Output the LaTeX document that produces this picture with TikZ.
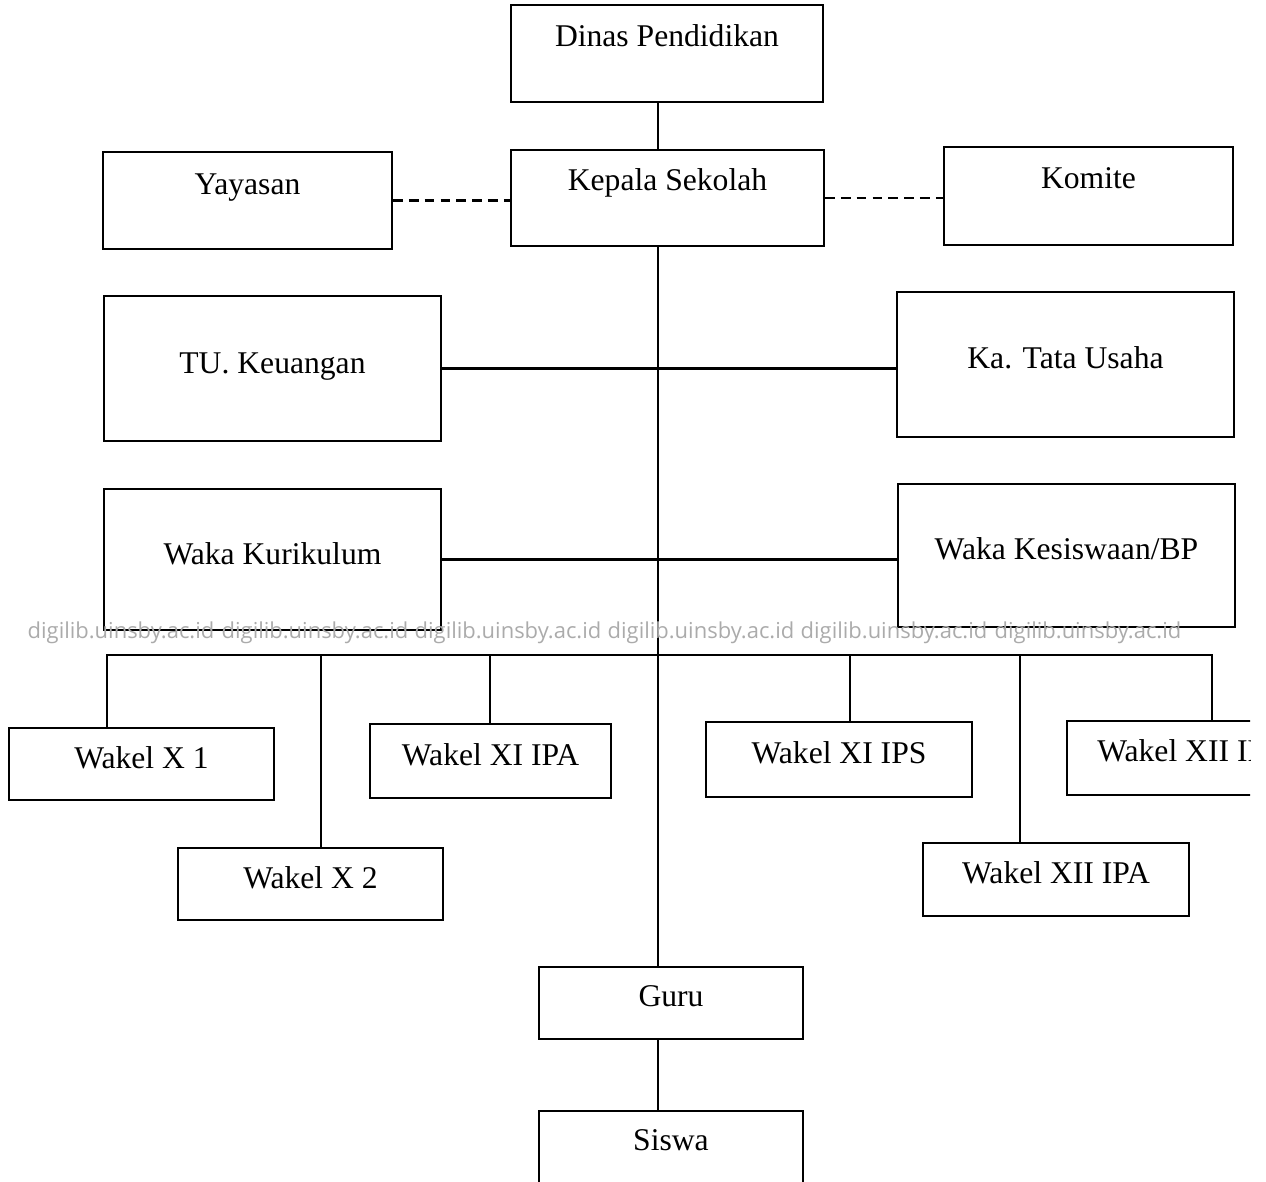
\documentclass[tikz,border=0pt]{standalone}
\usepackage{fontspec}
\setmainfont{Liberation Serif}
\newfontfamily\wmfont{Open Sans}
\usetikzlibrary{positioning}
\newcommand\orgfont{\fontsize{18}{22}\selectfont}

\begin{document}
\begin{tikzpicture}[
  x=0.02cm, y=-0.02cm,
  orgbox/.style n args={3}{draw, line width=1.2pt, inner sep=0pt,
    minimum width=#1*0.02cm, minimum height=#2*0.02cm,
    text height=13pt, text depth={4pt+#3*0.04cm}, font=\orgfont},
  link/.style={line width=1.2pt},
  dotlink/.style={line width=1.2pt, dash pattern=on 5.5pt off 3.5pt},
  wmtext/.style={text=black!33, font=\wmfont\fontsize{12.5}{14}\selectfont}
]
  \useasboundingbox (0,0) rectangle (1266,1181);
  \clip (0,0) rectangle (1250,1181);

  % top
  \node[orgbox={312}{97}{15}] (dinas) at (667,53.5) {Dinas Pendidikan};
  \node[orgbox={313}{96}{15}] (kepala) at (667.5,198) {Kepala Sekolah};
  \node[orgbox={289}{97}{14}] (yayasan) at (247.5,200.5) {Yayasan};
  \node[orgbox={289}{98}{15}] (komite) at (1088.5,196) {Komite};

  % staff
  \node[orgbox={337}{145}{3}] (tukeu) at (272.5,368.5) {TU. Keuangan};
  \node[orgbox={337}{145}{4}] (katu) at (1065.5,364.5) {Ka. Tata Usaha};
  \node[orgbox={337}{141}{3}] (wakakur) at (272.5,559.5) {Waka Kurikulum};
  \node[orgbox={337}{143}{4}] (wakakes) at (1066.5,555.5) {Waka Kesiswaan/BP};

  % wali kelas
  \node[orgbox={265}{72}{3}] (xa) at (141.5,764) {Wakel X 1};
  \node[orgbox={265}{72}{3}] (xb) at (310.5,884) {Wakel X 2};
  \node[orgbox={241}{74}{3}] (xiipa) at (490.5,761) {Wakel XI IPA};
  \node[orgbox={266}{75}{4}] (xiips) at (839,759.5) {Wakel XI IPS};
  \node[orgbox={266}{73}{4}] (xiiipa) at (1056,879.5) {Wakel XII IPA};
  \node[orgbox={246}{74}{4}] (xiiips) at (1190,758) {Wakel XII IPS};

  \node[orgbox={264}{72}{4}] (guru) at (671,1003) {Guru};
  \node[orgbox={264}{72}{4}] (siswa) at (671,1147) {Siswa};

  \coordinate (spine) at (658,0);
  \coordinate (busL) at (107,655);
  \coordinate (busR) at (1212,655);

  \draw[link] (dinas.south -| spine) -- (kepala.north -| spine);
  \draw[link] (kepala.south -| spine) -- (guru.north -| spine);
  \draw[link] (guru.south -| spine) -- (siswa.north -| spine);

  \draw[dotlink] (yayasan.east) -- (yayasan.east -| kepala.west);
  \draw[dotlink] (kepala.east) -- (kepala.east -| komite.west);

  \draw[link] (tukeu.east) -- (tukeu.east -| katu.west);
  \draw[link] (wakakur.east) -- (wakakur.east -| wakakes.west);

  \draw[link] (busL |- xa.north) -- (busL) -- (busR) -- (busR |- xiiips.north);
  \foreach \x/\n in {321/xb,490/xiipa,850/xiips,1020/xiiipa}{
    \coordinate (drop) at (\x,655);
    \draw[link] (drop) -- (drop |- \n.north);
  }

  % watermark
  \foreach \x [count=\i] in {121,315,508,701,894,1088}
    \node[wmtext] (wm\i) at (\x,633) {digilib.uinsby.ac.id};
\end{tikzpicture}
\end{document}
